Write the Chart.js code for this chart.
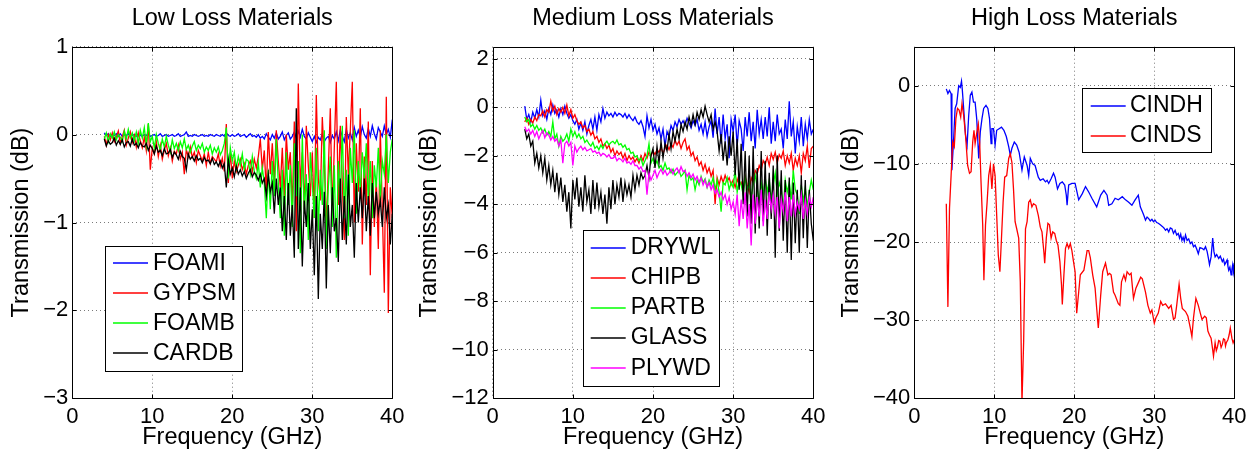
<!DOCTYPE html>
<html><head><meta charset="utf-8">
<script src="https://cdn.jsdelivr.net/npm/chart.js@4.4.1/dist/chart.umd.min.js"></script>
<style>
html,body{margin:0;padding:0;background:#fff;overflow:hidden;width:1255px;height:453px;}
canvas{position:absolute;top:0;}
</style></head><body>
<canvas id="c1" width="418" height="453" style="left:0px"></canvas>
<canvas id="c2" width="418" height="453" style="left:418px"></canvas>
<canvas id="c3" width="419" height="453" style="left:836px"></canvas>
<script>
const FONT = '"Liberation Sans", Arial, Helvetica, sans-serif';

// Shared frequency grid (GHz) for the low / medium loss panels
const FREQ = [4,4.25,4.5,4.75,5,5.25,5.5,5.75,6,6.25,6.5,6.75,7,7.25,7.5,7.75,8,8.25,8.5,8.75,9,9.25,9.5,9.75,
10,10.25,10.5,10.75,11,11.25,11.5,11.75,12,12.25,12.5,12.75,13,13.25,13.5,13.75,14,14.25,14.5,14.75,15,15.25,15.5,15.75,
16,16.25,16.5,16.75,17,17.25,17.5,17.75,18,18.25,18.5,18.75,19,19.25,19.5,19.75,20,20.25,20.5,20.75,21,21.25,21.5,21.75,
22,22.25,22.5,22.75,23,23.25,23.5,23.75,24,24.25,24.5,24.75,25,25.25,25.5,25.75,26,26.25,26.5,26.75,27,27.25,27.5,27.75,
28,28.25,28.5,28.75,29,29.25,29.5,29.75,30,30.25,30.5,30.75,31,31.25,31.5,31.75,32,32.25,32.5,32.75,33,33.25,33.5,33.75,
34,34.25,34.5,34.75,35,35.25,35.5,35.75,36,36.25,36.5,36.75,37,37.25,37.5,37.75,38,38.25,38.5,38.75,39,39.25,39.5,39.75,40];

// ---- Low loss materials (dB)
const FOAMI = [0.02,-0.01,0.01,-0.02, 0.00,-0.01,0.01,-0.02, 0.01,-0.02,0.00,-0.01, 0.01,-0.02,-0.01,0.00,
-0.02,0.01,-0.01,-0.02, 0.00,-0.01,0.01,-0.02, -0.01,0.00,-0.02,-0.01, 0.01,-0.02,-0.01,0.00,
-0.02,-0.01,0.00,-0.02, -0.01,0.01,-0.02,-0.01, 0.00,0.03,-0.02,-0.01, -0.02,0.00,-0.01,-0.02,
-0.01,0.00,-0.02,-0.01, -0.02,0.00,-0.01,-0.02, 0.00,-0.01,-0.02,0.00, -0.02,0.02,-0.01,-0.02,
0.00,-0.02,-0.01,0.01, -0.02,-0.01,0.00,-0.03, -0.01,0.01,-0.02,-0.01, -0.03,0.00,-0.04,-0.02,
-0.05,0.01,-0.03,-0.06, 0.00,-0.04,0.02,-0.05, -0.02,0.03,-0.06,-0.01, 0.02,-0.05,-0.02,0.03,
-0.04,0.04,-0.03,0.06, -0.02,-0.05,0.02,-0.03, -0.08,-0.02,-0.09,-0.03, -0.06,0.01,-0.08,-0.04,
-0.02,-0.09,-0.01,-0.05, 0.03,-0.07,0.05,-0.02, -0.08,0.06,-0.04,0.02, -0.06,0.08,-0.02,0.05,
-0.03,0.09,0.00,-0.04, 0.07,-0.02,0.10,0.01, -0.05,0.08,0.03,-0.02, 0.10,0.00,0.06,-0.03, 0.17];
const GYPSM = [-0.02,-0.12,0.00,-0.06, 0.02,-0.08,-0.03,0.04, -0.10,-0.02,0.05,-0.12, -0.04,0.03,-0.09,-0.01,
-0.14,0.02,-0.07,-0.15, -0.03,-0.18,0.12,-0.40, -0.15,-0.22,-0.08,-0.25, -0.12,-0.28,-0.18,-0.10,
-0.24,-0.15,-0.30,-0.19, -0.22,-0.12,-0.28,-0.20, -0.45,-0.17,-0.25,-0.14, -0.26,-0.20,-0.32,-0.18,
-0.24,-0.30,-0.22,-0.35, -0.20,-0.33,-0.25,-0.28, -0.31,-0.22,-0.36,-0.27, -0.42,0.12,-0.55,-0.20,
-0.50,-0.30,-0.42,-0.35, -0.28,-0.40,-0.33,-0.45, -0.35,-0.30,-0.42,-0.28, -0.38,-0.25,-0.05,-0.40,
-0.18,-0.65,0.03,-0.45, -0.10,-0.55,0.05,-0.30, -0.60,-0.15,-0.75,0.00, -0.40,-0.20,-0.85,0.15,
-1.10,0.58,-0.60,-0.20, -0.85,0.10,-0.35,-0.70, -0.20,-0.95,0.45,-0.50, -0.75,0.20,-0.30,-1.05,
-0.40,0.30,-0.90,-0.15, 0.60,-0.80,0.10,-0.55, -1.20,0.20,-0.45,0.05, 0.60,-1.00,-0.10,-0.65,
0.30,-1.25,-0.25,-0.80, 0.15,-1.60,-0.30,-1.05, -0.50,-1.30,0.05,-0.85, -1.80,0.43,-2.03,-0.60, -0.95];
const FOAMB = [-0.05,0.02,-0.08,0.01, -0.04,0.03,-0.06,0.00, -0.03,-0.08,0.04,-0.05, 0.06,-0.04,0.02,-0.07,
0.03,-0.10,0.05,-0.04, 0.08,-0.12,0.13,-0.08, -0.02,-0.15,0.00,-0.10, -0.18,-0.05,-0.14,-0.02,
-0.12,-0.20,-0.06,-0.16, -0.10,-0.18,-0.08,-0.15, -0.05,-0.17,-0.12,-0.20, -0.13,-0.08,-0.18,-0.12,
-0.16,-0.10,-0.20,-0.14, -0.18,-0.12,-0.22,-0.15, -0.20,-0.14,-0.23,-0.18, -0.10,0.08,-0.50,-0.15,
-0.30,-0.20,-0.38,-0.25, -0.35,-0.22,-0.40,-0.28, -0.30,-0.45,-0.25,-0.42, -0.50,-0.32,-0.60,-0.38,
-0.55,-0.95,-0.40,-0.85, -0.30,-0.70,-0.05,-0.55, -0.95,-0.40,-1.15,-0.20, -0.80,-0.35,-1.05,-0.10,
-0.70,-0.30,-1.35,0.00, -0.90,-0.45,-1.20,-0.20, -0.55,-0.95,-0.15,-1.10, -0.40,-0.80,0.05,-1.30,
-0.60,-0.25,-1.05,-0.35, -1.40,-0.30,-0.75,0.10, -0.95,-0.40,-1.15,-0.15, -0.55,0.05,-0.90,-0.30,
-0.65,-0.20,-0.50,-0.10, -0.75,-0.30,-0.95,-0.35, -0.60,-0.15,-0.75,-0.30, -0.45,0.00,-0.55,-0.20, -0.05];
const CARDB = [-0.05,-0.13,-0.07,-0.11, -0.09,-0.04,-0.12,-0.07, -0.11,-0.06,-0.14,-0.09, -0.08,-0.13,-0.05,-0.12,
-0.10,-0.15,-0.09,-0.13, -0.14,-0.10,-0.18,-0.12, -0.16,-0.22,-0.13,-0.20, -0.18,-0.24,-0.16,-0.22,
-0.21,-0.17,-0.26,-0.20, -0.23,-0.28,-0.19,-0.25, -0.27,-0.40,-0.22,-0.28, -0.25,-0.30,-0.24,-0.29,
-0.27,-0.32,-0.26,-0.30, -0.29,-0.33,-0.27,-0.34, -0.31,-0.36,-0.30,-0.38, -0.33,-0.60,-0.28,-0.45,
-0.38,-0.48,-0.36,-0.45, -0.40,-0.47,-0.42,-0.50, -0.44,-0.40,-0.48,-0.43, -0.46,-0.52,-0.45,-0.55,
-0.50,-0.70,-0.45,-0.65, -0.55,-0.90,-0.50,-0.80, -0.60,-1.10,-0.70,-1.20, -0.55,-1.15,-0.80,-1.40,
0.30,-1.30,-0.60,-1.50, -0.75,-1.05,-0.55,-1.30, -0.85,-1.60,-0.70,-1.87, -0.90,-1.30,-0.65,-1.75,
-0.80,-1.35,-0.60,-1.10, -0.95,-1.45,-0.50,-1.20, -0.70,-1.25,-0.45,-1.05, -0.80,-1.40,-0.55,-1.00,
-0.60,-0.95,-0.50,-1.10, -0.70,-1.15,-0.55,-0.95, -0.65,-0.90,-0.75,-1.05, -0.60,-0.95,-0.80,-1.25, -0.90];

// ---- Medium loss materials (dB)
const DRYWL = [0.05,-0.50,-0.30,-0.60, -0.20,-0.45,-0.10,-0.40, 0.30,-0.35,-0.15,-0.50, -0.05,-0.30,0.10,-0.25,
-0.10,-0.40,-0.05,-0.30, 0.05,-0.25,-0.45,-0.30, -0.55,-0.70,-0.50,-0.90, -0.65,-0.95,-0.60,-1.10,
-0.75,-0.50,-0.90,-0.40, -0.95,-0.30,-0.60,-0.05, -0.45,-0.20,-0.35,-0.25, -0.40,-0.20,-0.35,-0.25,
-0.30,-0.40,-0.25,-0.45, -0.30,-0.45,-0.55,-0.40, -0.60,-0.70,-0.55,-0.80, -1.20,-0.35,-0.85,-0.50,
-0.95,-0.70,-1.10,-0.85, -1.30,-0.90,-1.60,-1.00, -1.20,-0.75,-0.95,-0.60, -0.80,-0.50,-0.70,-0.55,
-0.75,-0.45,-0.65,-0.85, -0.55,-0.75,-0.50,-0.95, -0.70,-1.10,-0.60,-1.20, -0.80,-0.55,-1.25,-0.05,
-1.10,-0.40,-1.50,-0.30, -1.30,-0.70,-2.10,-0.50, -1.00,-0.30,-1.60,-0.55, -0.90,-1.80,-0.40,-1.20,
-0.20,-1.40,-0.60,-1.70, -0.10,-1.10,-0.50,-1.30, -0.40,-1.20,0.00,-1.50, -0.60,-1.40,-0.30,-1.10,
-0.90,-1.70,-0.50,-1.30, 0.25,-1.20,-0.60,-1.90, -0.80,-1.40,-0.40,-1.60, -0.70,-1.30,-0.50,-1.10, -0.90];
const CHIPB = [-0.60,-0.45,-0.70,-0.50, -0.65,-0.40,-0.55,-0.30, -0.35,-0.15,-0.40,-0.10, -0.20,0.25,-0.15,0.05,
-0.30,-0.05,-0.20,0.00, -0.25,0.10,-0.35,-0.10, -0.45,-0.30,-0.55,-0.70, -0.60,-0.85,-0.75,-1.00,
-0.90,-1.15,-1.00,-1.30, -1.20,-1.45,-1.30,-1.60, -1.50,-1.70,-1.55,-1.85, -1.70,-2.00,-1.80,-1.95,
-1.85,-2.10,-1.90,-2.20, -2.00,-2.15,-2.05,-2.25, -2.10,-2.30,-2.00,-2.20, -1.90,-2.10,-1.85,-2.00,
-1.80,-1.95,-1.75,-1.85, -1.65,-1.90,-1.70,-1.55, -1.75,-1.50,-1.65,-1.35, -1.55,-1.40,-1.70,-1.45,
-1.30,-1.75,-1.60,-2.00, -1.85,-2.20,-2.05,-2.40, -2.25,-2.60,-2.35,-2.70, -2.50,-2.85,-2.60,-4.00,
-2.90,-3.20,-2.85,-3.10, -2.80,-3.05,-2.90,-3.20, -3.00,-3.30,-2.95,-3.25, -3.10,-3.40,-2.85,-3.20,
-3.50,-2.90,-3.10,-2.60, -2.75,-2.40,-2.60,-2.20, -2.35,-2.05,-2.40,-1.90, -2.15,-1.85,-2.30,-1.95,
-2.10,-1.80,-2.40,-2.00, -2.30,-1.90,-2.60,-2.10, -2.40,-2.00,-2.70,-1.90, -2.20,-1.60,-2.50,-1.70, -1.60];
const PARTB = [-0.40,-0.60,-0.50,-0.80, -0.70,-0.90,-0.75,-0.95, -0.85,-1.05,-0.90,-1.15, -1.00,-1.20,-0.60,-1.30,
-1.10,-1.60,-1.20,-1.40, -1.30,-1.10,-1.40,-0.90, -1.20,-1.00,-1.25,-1.10, -1.30,-1.20,-1.45,-1.35,
-1.50,-1.60,-1.45,-1.70, -1.60,-1.75,-1.55,-1.70, -1.50,-1.40,-1.55,-1.45, -1.40,-1.50,-1.35,-1.55,
-1.50,-1.65,-1.55,-1.75, -1.70,-1.90,-1.85,-2.05, -2.00,-2.20,-2.10,-2.40, -2.20,-2.00,-1.50,-2.30,
-2.10,-2.40,-2.20,-2.50, -2.40,-2.60,-2.30,-2.55, -2.50,-2.70,-2.55,-2.80, -2.70,-2.60,-2.85,-2.75,
-2.60,-3.40,-2.80,-3.00, -2.90,-3.40,-3.00,-3.20, -2.85,-3.10,-2.95,-3.30, -3.00,-3.20,-2.90,-3.40,
-3.00,-3.50,-4.30,-3.10, -3.20,-2.90,-3.40,-3.10, -3.30,-2.60,-3.50,-3.00, -3.20,-3.60,-2.90,-3.40,
-3.10,-3.70,-3.20,-2.80, -3.30,-4.00,-3.10,-3.60, -2.90,-3.50,-3.00,-3.80, -3.20,-2.70,-3.60,-3.10,
-3.40,-4.20,-3.00,-3.50, -3.10,-3.80,-2.60,-3.40, -3.60,-4.40,-3.20,-3.90, -3.30,-4.10,-3.50,-3.00, -3.40];
const GLASS = [-0.90,-1.30,-1.10,-1.60, -1.40,-2.30,-1.90,-2.50, -2.00,-2.70,-2.10,-3.00, -2.40,-3.20,-2.60,-3.50,
-2.70,-3.60,-2.90,-3.90, -3.20,-4.30,-3.50,-5.00, -3.00,-3.80,-2.90,-4.10, -3.30,-4.30,-2.80,-3.90,
-3.40,-4.40,-3.00,-4.20, -3.10,-4.10,-3.50,-4.40, -3.60,-4.80,-3.30,-4.20, -3.00,-4.00,-3.20,-3.70,
-2.90,-3.90,-3.10,-3.60, -3.20,-3.70,-2.80,-3.40, -2.80,-3.20,-2.70,-2.95, -2.80,-2.40,-2.90,-2.00,
-1.70,-2.50,-1.60,-2.30, -1.40,-2.10,-1.50,-1.80, -1.10,-1.70,-1.00,-1.40, -0.90,-1.30,-0.70,-1.00,
-0.60,-0.90,-0.40,-0.75, -0.30,-0.70,-0.20,-0.50, -0.10,-0.40,0.05,-0.30, -0.60,-0.30,-0.90,-0.60,
-1.00,-1.80,-1.10,-2.20, -1.40,-2.40,-1.20,-2.00, -1.00,-2.80,-1.30,-3.40, -1.50,-4.00,-1.80,-4.50,
-2.00,-4.80,-1.60,-5.20, -2.50,-5.00,-1.80,-4.70, -2.20,-5.30,-2.70,-4.60, -2.40,-6.20,-2.00,-5.10,
-2.60,-5.50,-3.00,-6.00, -2.90,-6.30,-3.10,-5.60, -3.40,-6.00,-2.80,-5.40, -3.00,-5.80,-3.40,-4.80, -5.50];
const PLYWD = [-0.80,-1.00,-0.90,-1.10, -0.95,-1.20,-1.00,-1.30, -1.10,-0.95,-1.25,-1.05, -1.15,-1.35,-1.20,-1.40,
-1.30,-1.60,-1.35,-2.30, -1.50,-1.40,-1.60,-1.45, -2.40,-1.60,-1.85,-1.70, -1.60,-1.75,-1.65,-1.80,
-1.75,-1.70,-1.85,-1.80, -1.90,-1.85,-2.00,-1.90, -1.95,-2.05,-1.95,-2.10, -2.10,-2.00,-2.20,-2.10,
-2.15,-2.25,-2.10,-2.30, -2.25,-2.35,-2.20,-2.40, -2.40,-2.55,-2.45,-2.65, -2.60,-3.60,-2.70,-3.00,
-2.80,-2.60,-2.90,-2.70, -2.55,-2.75,-2.60,-2.80, -2.70,-2.55,-2.75,-2.60, -2.50,-2.70,-2.45,-2.65,
-2.60,-2.85,-2.70,-2.90, -2.75,-3.00,-2.85,-3.10, -2.90,-3.20,-3.00,-3.30, -3.10,-3.40,-3.20,-3.55,
-3.40,-3.70,-3.50,-3.80, -3.60,-4.00,-3.70,-4.20, -3.90,-4.40,-3.60,-4.90, -3.80,-4.60,-3.50,-5.00,
-4.00,-5.70,-3.60,-4.80, -3.70,-4.50,-3.40,-4.90, -3.80,-4.60,-3.50,-4.20, -3.60,-4.40,-3.70,-5.00,
-3.80,-4.30,-3.50,-4.70, -3.70,-4.50,-3.60,-4.40, -3.90,-4.20,-3.60,-4.60, -3.80,-4.40,-3.70,-4.10, -3.70];

// ---- High loss materials (own frequency samples)
const CINDH_F = [4.0,4.2,4.4,4.6,4.7,4.9,5.1,5.3,5.55,5.75,
5.9,6.0,6.17,6.4,6.6,6.8,7.0,7.2,7.4,7.6,
7.8,8.05,8.25,8.46,8.67,8.96,9.2,9.4,9.6,9.7,
9.9,10.1,10.3,10.6,10.9,11.2,11.5,11.8,12.0,12.2,
12.5,12.8,13.1,13.46,13.75,14.1,14.3,14.5,14.8,15.1,
15.5,15.75,16.1,16.4,16.6,16.8,17.1,17.4,17.6,17.9,
18.2,18.5,18.8,19.0,19.1,19.3,19.7,20.1,20.55,21.0,
21.4,21.8,22.2,22.8,23.3,23.7,24.1,24.3,24.7,25.1,
25.5,26.0,26.4,26.8,27.2,27.6,28.0,28.25,28.5,28.7,
28.9,29.1,29.3,29.5,29.7,29.9,30.1,30.3,30.5,30.75,
31.0,31.2,31.4,31.6,31.8,32.0,32.2,32.4,32.6,32.8,
33.0,33.15,33.3,33.45,33.6,33.75,33.9,34.1,34.3,34.5,
34.7,34.9,35.1,35.3,35.5,35.7,35.96,36.2,36.4,36.6,
36.75,36.9,37.1,37.3,37.45,37.6,37.8,38.05,38.25,38.5,
38.65,38.8,38.95,39.1,39.2,39.3,39.45,39.6,39.7,39.8,
39.9,40.0];
const CINDH = [-0.4,-1.0,-0.6,-1.0,-10.8,-7.2,-2.9,-2.3,0,-0.2,
0.6,-0.5,-2.9,-6.3,-7.6,-3.8,-1.2,-0.8,-2.1,-2.1,
-4.2,-9.3,-5.9,-4.2,-2.9,-2.5,-2.9,-4.2,-7.4,-5.5,
-5.5,-7.6,-5.7,-5.5,-5.3,-5.7,-6.5,-7.8,-8.9,-8.0,
-7.2,-7.6,-8.5,-10.8,-9.1,-10.2,-11.5,-9.3,-10.0,-10.2,
-11.7,-12.1,-11.9,-12.3,-12.1,-12.5,-11.9,-11.2,-11.7,-13.2,
-12.5,-12.3,-12.7,-14.0,-15.3,-12.7,-12.5,-12.5,-14.6,-13.8,
-12.9,-13.6,-14.4,-15.5,-14.0,-13.4,-14.0,-15.3,-15.1,-14.4,
-14.6,-14.2,-14.6,-14.9,-15.3,-14.6,-14.0,-15.5,-16.1,-16.6,
-17.2,-16.8,-17.0,-17.3,-17.1,-17.4,-17.2,-17.5,-17.6,-17.8,
-18.0,-18.2,-18.5,-18.3,-18.7,-18.2,-18.3,-18.9,-18.5,-19.1,
-18.9,-19.5,-19.0,-19.8,-19.4,-19.9,-19.1,-19.8,-19.6,-20.2,
-20.0,-20.6,-20.4,-20.9,-21.5,-20.7,-20.8,-21.0,-20.6,-21.2,
-22.0,-22.9,-21.9,-19.5,-21.2,-21.9,-21.6,-22.1,-21.8,-22.5,
-22.2,-22.9,-22.6,-22.3,-23.1,-23.6,-23.2,-24.2,-23.5,-22.9,
-23.8,-22.7];
const CINDS_F = [4.0,4.2,4.4,4.6,4.8,5.0,5.2,5.4,5.6,5.8,
5.96,6.17,6.4,6.67,6.9,7.1,7.3,7.46,7.6,7.8,
8.0,8.17,8.34,8.55,8.7,8.9,9.1,9.3,9.5,9.7,
9.9,10.1,10.3,10.5,10.7,10.88,11.1,11.3,11.55,11.8,
12.0,12.2,12.4,12.6,12.8,13.05,13.25,13.46,13.67,13.9,
14.1,14.3,14.5,14.7,14.9,15.2,15.5,15.75,15.96,16.2,
16.3,16.5,16.7,16.9,17.1,17.3,17.55,17.75,17.96,18.2,
18.4,18.5,18.7,18.9,19.1,19.3,19.5,19.7,19.9,20.1,
20.3,20.55,20.75,21.2,21.6,21.8,22.0,22.3,22.6,22.8,
23.0,23.3,23.55,23.9,24.2,24.4,24.6,24.9,25.1,25.5,
25.7,25.9,26.2,26.4,26.6,26.9,27.1,27.4,27.7,28.05,
28.3,28.5,28.9,29.2,29.5,29.7,30.0,30.2,30.5,30.8,
31.05,31.4,31.8,32.1,32.4,32.6,32.8,33.1,33.3,33.5,
33.9,34.2,34.5,34.7,34.9,35.2,35.5,35.75,35.96,36.3,
36.5,36.7,36.9,37.1,37.3,37.4,37.6,37.75,37.9,38.05,
38.2,38.35,38.5,38.65,38.8,38.9,39.0,39.2,39.35,39.5,
39.7,39.85,40.0];
const CINDS = [-15.1,-28.3,-15.7,-11.5,-7.2,-7.8,-4.2,-2.9,-3.1,-4.0,
-2.3,-3.8,-6.3,-10.2,-11.2,-11.0,-7.2,-5.7,-7.4,-6.1,
-4.9,-7.2,-12.3,-17.8,-24.9,-17.8,-14.9,-11.5,-10.2,-13.2,
-10.0,-11.5,-16.6,-21.7,-23.8,-19.9,-14.9,-11.7,-11.5,-9.3,
-8.7,-9.8,-13.2,-17.4,-18.3,-19.5,-25.1,-40.5,-32.7,-18.3,
-17.4,-14.9,-14.6,-15.5,-15.1,-15.3,-16.6,-18.1,-18.7,-21.3,
-22.7,-19.5,-17.6,-17.8,-19.5,-18.7,-18.9,-19.8,-20.4,-22.5,
-25.5,-28.0,-24.2,-20.8,-20.2,-20.8,-20.2,-21.1,-22.5,-23.8,
-29.1,-26.4,-24.2,-23.6,-21.1,-21.1,-22.0,-24.2,-25.9,-28.5,
-31.0,-26.8,-23.8,-22.7,-24.2,-24.0,-24.2,-26.4,-26.8,-27.9,
-28.1,-25.1,-24.2,-24.9,-23.8,-24.2,-24.0,-27.2,-25.9,-25.1,
-24.5,-24.7,-26.4,-28.1,-29.1,-28.7,-30.4,-29.7,-29.1,-27.6,
-28.1,-27.9,-28.5,-28.1,-29.9,-29.7,-28.1,-25.4,-27.2,-28.5,
-28.9,-29.5,-31.0,-32.1,-29.7,-27.2,-28.1,-29.1,-29.9,-29.5,
-29.7,-31.4,-31.9,-32.3,-33.8,-34.6,-32.9,-33.9,-33.4,-32.6,
-32.7,-33.5,-33.1,-32.4,-32.5,-33.3,-32.9,-32.5,-31.9,-31.0,
-32.3,-32.9,-32.5];

// Tick values and texts
const X_TICKS = [0, 10, 20, 30, 40];
const Y_TICKS_LOW = [-3, -2, -1, 0, 1];
const Y_TICKS_MED = [-12, -10, -8, -6, -4, -2, 0, 2];
const Y_TICKS_HIGH = [-40, -30, -20, -10, 0];
const TITLES = ['Low Loss Materials', 'Medium Loss Materials', 'High Loss Materials'];
const X_LABEL = 'Frequency (GHz)';
const Y_LABEL = 'Transmission (dB)';

const GRID_COLOR = '#7a7a7a';
const LINE_W = 1.3;

const framePlugin = {
  id: 'frame',
  afterDatasetsDraw(chart) {
    const {ctx, chartArea: a, scales} = chart;
    ctx.save();
    ctx.strokeStyle = '#000';
    ctx.lineWidth = 1;
    const L = Math.round(a.left) + 0.5, R = Math.round(a.right) + 0.5;
    const T = Math.round(a.top) + 0.5, B = Math.round(a.bottom) + 0.5;
    ctx.beginPath();
    ctx.rect(L, T, R - L, B - T);
    ctx.stroke();
    const tl = 4;
    ctx.beginPath();
    scales.x.ticks.forEach(t => {
      const p = Math.round(scales.x.getPixelForValue(t.value)) + 0.5;
      ctx.moveTo(p, B); ctx.lineTo(p, B - tl);
      ctx.moveTo(p, T); ctx.lineTo(p, T + tl);
    });
    scales.y.ticks.forEach(t => {
      const p = Math.round(scales.y.getPixelForValue(t.value)) + 0.5;
      ctx.moveTo(L, p); ctx.lineTo(L + tl, p);
      ctx.moveTo(R, p); ctx.lineTo(R - tl, p);
    });
    ctx.stroke();
    ctx.restore();
  }
};

const boxLegend = {
  id: 'boxLegend',
  afterDatasetsDraw(chart, args, o) {
    const ctx = chart.ctx;
    ctx.save();
    ctx.fillStyle = '#fff';
    ctx.fillRect(o.x, o.y, o.w, o.h);
    ctx.strokeStyle = '#000';
    ctx.lineWidth = 1;
    ctx.strokeRect(Math.round(o.x) + 0.5, Math.round(o.y) + 0.5, Math.round(o.w), Math.round(o.h));
    ctx.font = o.fontSize + 'px ' + FONT;
    ctx.textBaseline = 'middle';
    ctx.textAlign = 'left';
    chart.data.datasets.forEach((ds, i) => {
      const y = Math.round(o.row0 + i * o.rowStep);
      ctx.strokeStyle = ds.borderColor;
      ctx.lineWidth = 1.5;
      ctx.beginPath();
      ctx.moveTo(o.lineX0, y);
      ctx.lineTo(o.lineX1, y);
      ctx.stroke();
      ctx.fillStyle = '#000';
      ctx.fillText(ds.label, o.textX, o.row0 + i * o.rowStep);
    });
    ctx.restore();
  }
};

const minusFmt = v => (v < 0 ? '\u2212' + Math.abs(v) : String(v));

function makeChart(id, cfg) {
  const datasets = cfg.series.map((s, i) => ({
    label: s.label,
    data: s.x.map((f, j) => ({x: f, y: s.y[j]})),
    borderColor: s.color,
    backgroundColor: s.color,
    borderWidth: LINE_W,
    pointRadius: 0,
    pointHoverRadius: 0,
    tension: 0,
    fill: false,
    order: cfg.series.length - i
  }));
  return new Chart(document.getElementById(id), {
    type: 'line',
    data: {datasets},
    plugins: [framePlugin, boxLegend],
    options: {
      responsive: false,
      animation: false,
      events: [],
      layout: {padding: {left: 0, top: 0, bottom: 0, right: cfg.padRight}},
      plugins: {
        legend: {display: false},
        tooltip: {enabled: false},
        title: {
          display: true, text: cfg.title, fullSize: false, color: '#000',
          font: {family: FONT, size: 23.5, weight: 'normal', lineHeight: 1.2},
          padding: {top: 4.2, bottom: 14.3}
        },
        boxLegend: cfg.legend
      },
      scales: {
        x: {
          type: 'linear', min: 0, max: 40, bounds: 'data',
          afterBuildTicks: s => { s.ticks = X_TICKS.map(v => ({value: v})); },
          ticks: {font: {family: FONT, size: 22}, color: '#000', padding: 5, maxRotation: 0, autoSkip: false, callback: minusFmt},
          grid: {color: GRID_COLOR, lineWidth: 1, drawTicks: false},
          border: {display: false, dash: [1, 3]},
          title: {display: true, text: X_LABEL, color: '#000', font: {family: FONT, size: 23.5, lineHeight: 1}, padding: {top: 0, bottom: 3.25}},
          afterFit: s => { s.height = 54.7; s.paddingLeft = 0; s.paddingRight = 0; }
        },
        y: {
          type: 'linear', min: cfg.yMin, max: cfg.yMax, bounds: 'data',
          afterBuildTicks: s => { s.ticks = cfg.yTicks.map(v => ({value: v})); },
          ticks: {font: {family: FONT, size: 22}, color: '#000', padding: 4, autoSkip: false, callback: minusFmt},
          grid: {color: GRID_COLOR, lineWidth: 1, drawTicks: false},
          border: {display: false, dash: [1, 3]},
          title: {display: true, text: Y_LABEL, color: '#000', font: {family: FONT, size: 23.5, lineHeight: 1}, padding: {top: cfg.yTitlePad, bottom: 0}},
          afterFit: s => { s.width = cfg.yWidth; s.paddingTop = 0; s.paddingBottom = 0; }
        }
      }
    }
  });
}

makeChart('c1', {
  title: TITLES[0], yMin: -3, yMax: 1, yTicks: Y_TICKS_LOW, yWidth: 72.3, padRight: 25.7, yTitlePad: 10.25,
  series: [
    {label: 'FOAMI', x: FREQ, y: FOAMI, color: '#0000ff'},
    {label: 'GYPSM', x: FREQ, y: GYPSM, color: '#ff0000'},
    {label: 'FOAMB', x: FREQ, y: FOAMB, color: '#00ff00'},
    {label: 'CARDB', x: FREQ, y: CARDB, color: '#000000'}
  ],
  legend: {x: 105.3, y: 246, w: 137, h: 125, lineX0: 113, lineX1: 148, textX: 153, row0: 263.3, rowStep: 30, fontSize: 23}
});
makeChart('c2', {
  title: TITLES[1], yMin: -12, yMax: 2.5, yTicks: Y_TICKS_MED, yWidth: 74.7, padRight: 22.7, yTitlePad: 0.25,
  series: [
    {label: 'DRYWL', x: FREQ, y: DRYWL, color: '#0000ff'},
    {label: 'CHIPB', x: FREQ, y: CHIPB, color: '#ff0000'},
    {label: 'PARTB', x: FREQ, y: PARTB, color: '#00ff00'},
    {label: 'GLASS', x: FREQ, y: GLASS, color: '#000000'},
    {label: 'PLYWD', x: FREQ, y: PLYWD, color: '#ff00ff'}
  ],
  legend: {x: 164.7, y: 230, w: 136.3, h: 156, lineX0: 172.7, lineX1: 207.7, textX: 212.7, row0: 247.7, rowStep: 30.15, fontSize: 23}
});
makeChart('c3', {
  title: TITLES[2], yMin: -40, yMax: 5, yTicks: Y_TICKS_HIGH, yWidth: 78.3, padRight: 20.7, yTitlePad: 3.45,
  series: [
    {label: 'CINDH', x: CINDH_F, y: CINDH, color: '#0000ff'},
    {label: 'CINDS', x: CINDS_F, y: CINDS, color: '#ff0000'}
  ],
  legend: {x: 246.3, y: 88.3, w: 129.4, h: 64.4, lineX0: 254.7, lineX1: 289.7, textX: 294, row0: 105.5, rowStep: 30, fontSize: 23}
});
</script>
</body></html>
